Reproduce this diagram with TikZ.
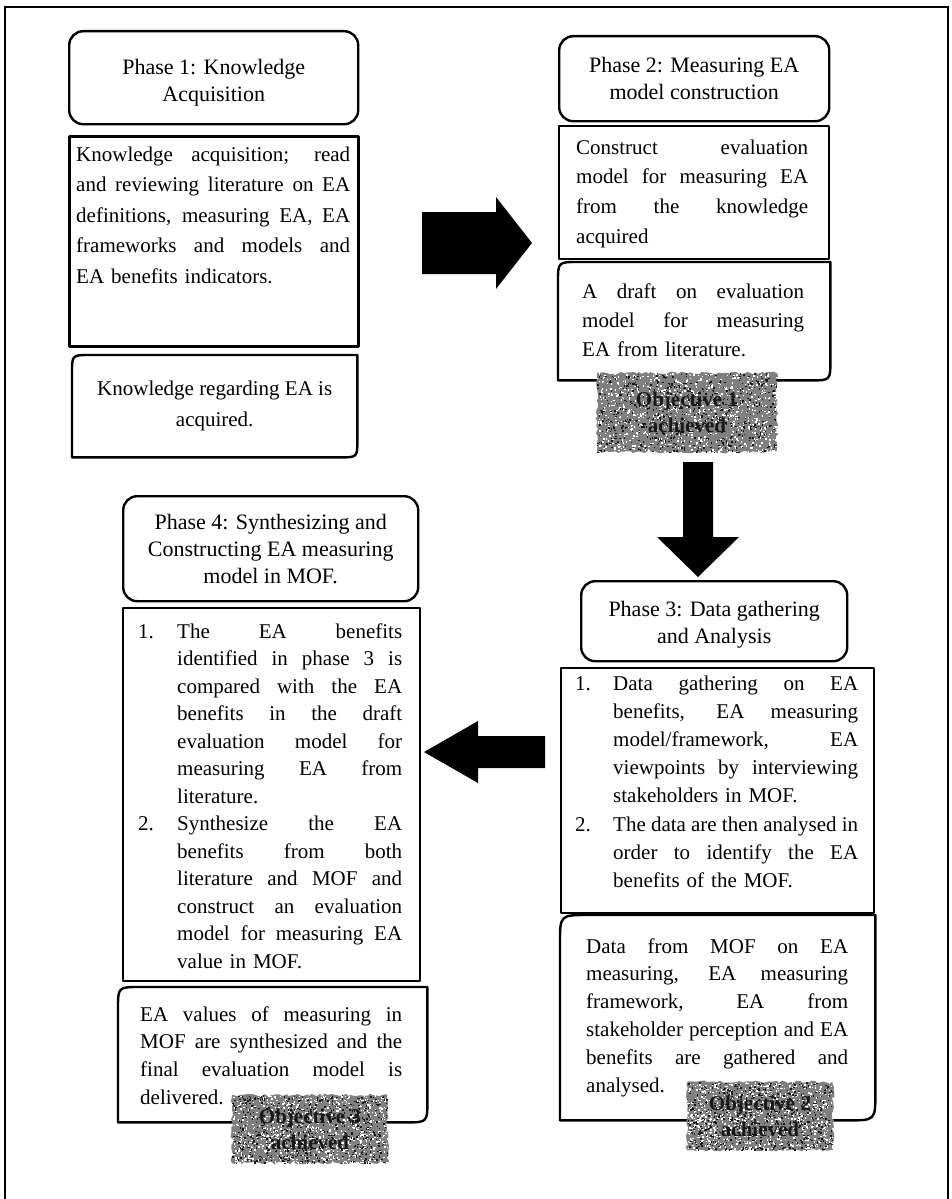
\documentclass[tikz,border=0pt]{standalone}
\usepackage{fontspec}
\setmainfont{Liberation Serif}
\usetikzlibrary{decorations.pathmorphing}

% one fully justified line, a ragged last line, and list lines with a hanging number
\newlength\itemind
\newlength\lw
\newcommand\jl[1]{\hbox to\lw{\spaceskip=0.25em plus 3em minus 0.06em\relax #1}}
\newcommand\lastln[1]{\hbox to\lw{#1\hfil}}
\newcommand\itemln[2]{\hbox to\lw{\spaceskip=0.25em plus 3em minus 0.06em\relax
  \hbox to\itemind{#1\hfil}#2}}
\newcommand\contln[1]{\hbox to\lw{\spaceskip=0.25em plus 3em minus 0.06em\relax
  \hskip\itemind #1}}
\newcommand\contlast[1]{\hbox to\lw{\hskip\itemind #1\hfil}}

% outline with rounded top-left and bottom-right corners around a node
\newcommand\cutoutline[2]{%
  \draw[boxline] (#1.south west) -- ([yshift=-#2]#1.north west)
    .. controls (#1.north west) .. ([xshift=#2]#1.north west)
    -- (#1.north east) -- ([yshift=#2]#1.south east)
    .. controls (#1.south east) .. ([xshift=-#2]#1.south east) -- cycle;}

% grainy grey patch behind the objective labels
\newcommand\grainpatch[4]{%
  \fill[black!50, decorate, decoration={random steps, segment length=3pt, amplitude=1.4pt}]
    (#1,#2) rectangle (#3,#4);
  \begin{scope}
    \clip (#1,#2) rectangle (#3,#4);
    \foreach \k in {1,...,900}{%
      \pgfmathsetmacro\gx{#1+rnd*(#3-#1)}%
      \pgfmathsetmacro\gy{#2+rnd*(#4-#2)}%
      \fill[white] (\gx,\gy) rectangle ++(1.4,1.4);}
    \foreach \k in {1,...,700}{%
      \pgfmathsetmacro\gx{#1+rnd*(#3-#1)}%
      \pgfmathsetmacro\gy{#2+rnd*(#4-#2)}%
      \fill[black!90] (\gx,\gy) rectangle ++(1.4,1.4);}
  \end{scope}}

\tikzset{
  boxline/.style={line width=2.4pt, draw=black, line join=round},
  titlebox/.style={boxline, rounded corners=14pt, anchor=north west, inner sep=0pt},
  titletext/.style={inner sep=0pt, align=center, font=\fontsize{22}{27}\selectfont},
  plainbox/.style={boxline, anchor=north west, inner sep=0pt},
  cutbox/.style={draw=none, anchor=north west, inner sep=0pt},
  bodytext/.style={anchor=base west, inner sep=0pt, text width=#1},
  badgetext/.style={inner sep=0pt, align=center, text=black!90,
    font=\bfseries\fontsize{21}{26}\selectfont},
  blockarrow/.style={fill=black, draw=none},
}

\begin{document}
\begin{tikzpicture}[x=1pt, y=-1pt]
\pgfmathsetseed{11}
\useasboundingbox (0,0) rectangle (952,1199);
\fill[white] (0,0) rectangle (952,1199);

% page frame
\draw[line width=2pt] (5,1199) -- (5,7) -- (948,7) -- (948,1199);

% ---------- Phase 1 ----------
\node[titlebox, minimum width=289pt, minimum height=93pt] (p1title) at (68,30) {};
\node[titletext] (p1head) at ([yshift=-5pt]p1title.center) {Phase 1: Knowledge\\Acquisition};
\node[plainbox, line width=3pt, minimum width=289pt, minimum height=210pt] (p1body) at (68,135) {};
\node[bodytext=274pt, font=\fontsize{21}{30.5}\selectfont] (p1text) at (76,161) {%
  \lw=274pt\relax
  \jl{Knowledge acquisition; read}
  \jl{and reviewing literature on EA}
  \jl{definitions, measuring EA, EA}
  \jl{frameworks and models and}
  \lastln{EA benefits indicators.}};
\node[cutbox, minimum width=285pt, minimum height=102pt, align=center,
      font=\fontsize{21}{31}\selectfont] (p1out) at (72,355)
  {Knowledge regarding EA is\\acquired.};
\cutoutline{p1out}{18pt}

% ---------- Phase 2 ----------
\node[titlebox, minimum width=270pt, minimum height=85pt] (p2title) at (558,35) {};
\node[titletext] (p2head) at (p2title.center) {Phase 2: Measuring EA\\model construction};
\node[plainbox, minimum width=270pt, minimum height=133pt] (p2body) at (558,125) {};
\node[bodytext=232pt, font=\fontsize{21}{29.7}\selectfont] (p2text) at (576,154) {%
  \lw=232pt\relax
  \jl{Construct evaluation}
  \jl{model for measuring EA}
  \jl{from the knowledge}
  \lastln{acquired}};
\node[cutbox, minimum width=272pt, minimum height=118pt] (p2out) at (558,262) {};
\cutoutline{p2out}{20pt}
\node[bodytext=222pt, font=\fontsize{21}{29}\selectfont] (p2outtext) at (582,298) {%
  \lw=222pt\relax
  \jl{A draft on evaluation}
  \jl{model for measuring}
  \lastln{EA from literature.}};
\grainpatch{597}{373}{777}{452}
\node[badgetext] (obj1) at (687,412) {Objective 1\\achieved};

% ---------- Phase 3 ----------
\node[titlebox, minimum width=266pt, minimum height=80pt] (p3title) at (580,580) {};
\node[titletext] (p3head) at ([yshift=-4pt]p3title.center) {Phase 3: Data gathering\\and Analysis};
\node[plainbox, minimum width=313pt, minimum height=245pt] (p3body) at (560,667) {};
\node[bodytext=283pt, font=\fontsize{21}{28.2}\selectfont] (p3text) at (575,690) {%
  \lw=283pt\relax \itemind=38pt\relax
  \itemln{1.}{Data gathering on EA}
  \contln{benefits, EA measuring}
  \contln{model/framework, EA}
  \contln{viewpoints by interviewing}
  \contlast{stakeholders in MOF.}
  \itemln{2.}{The data are then analysed in}
  \contln{order to identify the EA}
  \contlast{benefits of the MOF.}};
\node[cutbox, minimum width=315pt, minimum height=205pt] (p3out) at (560,915) {};
\cutoutline{p3out}{28pt}
\node[bodytext=262pt, font=\fontsize{21}{27.8}\selectfont] (p3outtext) at (586,953) {%
  \lw=262pt\relax
  \jl{Data from MOF on EA}
  \jl{measuring, EA measuring}
  \jl{framework, EA from}
  \jl{stakeholder perception and EA}
  \jl{benefits are gathered and}
  \lastln{analysed.}};
\grainpatch{687}{1082}{833}{1150}
\node[badgetext] (obj2) at (760,1116) {Objective 2\\achieved};

% ---------- Phase 4 ----------
\node[titlebox, minimum width=295pt, minimum height=105pt] (p4title) at (122,495) {};
\node[titletext] (p4head) at (p4title.center)
  {Phase 4: Synthesizing and\\Constructing EA measuring\\model in MOF.};
\node[plainbox, minimum width=297pt, minimum height=373pt] (p4body) at (122,607) {};
\node[bodytext=264pt, font=\fontsize{21}{27.5}\selectfont] (p4text) at (138,638) {%
  \lw=264pt\relax \itemind=39pt\relax
  \itemln{1.}{The EA benefits}
  \contln{identified in phase 3 is}
  \contln{compared with the EA}
  \contln{benefits in the draft}
  \contln{evaluation model for}
  \contln{measuring EA from}
  \contlast{literature.}
  \itemln{2.}{Synthesize the EA}
  \contln{benefits from both}
  \contln{literature and MOF and}
  \contln{construct an evaluation}
  \contln{model for measuring EA}
  \contlast{value in MOF.}};
\node[cutbox, minimum width=309pt, minimum height=135pt] (p4out) at (118,987) {};
\cutoutline{p4out}{22pt}
\node[bodytext=262pt, font=\fontsize{21}{27.8}\selectfont] (p4outtext) at (140,1021) {%
  \lw=262pt\relax
  \jl{EA values of measuring in}
  \jl{MOF are synthesized and the}
  \jl{final evaluation model is}
  \lastln{delivered.}};
\grainpatch{232}{1095}{388}{1163}
\node[badgetext] (obj3) at (310,1129) {Objective 3\\achieved};

% ---------- block arrows between the phases ----------
\fill[blockarrow] (422,212) -- (496,212) -- (496,197) -- (532,243)
  -- (496,289) -- (496,274) -- (422,274) -- cycle;
\fill[blockarrow] (683,462) -- (713,462) -- (713,537) -- (739,537)
  -- (698,577) -- (657,537) -- (683,537) -- cycle;
\fill[blockarrow] (545,736) -- (478,736) -- (478,721) -- (424,752)
  -- (478,783) -- (478,768) -- (545,768) -- cycle;
\end{tikzpicture}
\end{document}
